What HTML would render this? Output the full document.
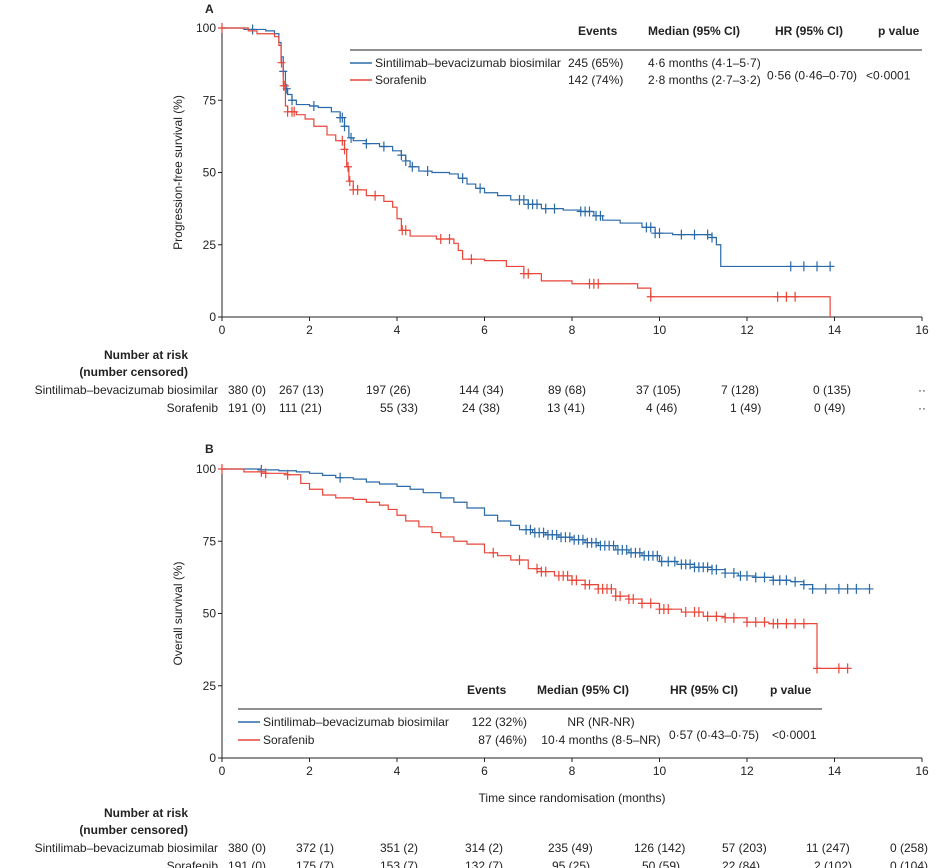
<!DOCTYPE html>
<html><head><meta charset="utf-8"><style>
html,body{margin:0;padding:0;background:#fff;}
svg{display:block;font-family:"Liberation Sans Narrow","Liberation Sans",sans-serif;}
text{fill:#222;font-size:12px;}
.b{font-weight:bold;}
</style></head><body>
<svg id="c" width="939" height="868" viewBox="0 0 939 868"></svg>
<script>
// ---- Panel A data ----
const xTicks=[0,2,4,6,8,10,12,14,16];
const yTicks=[0,25,50,75,100];
const aBlueT=[0,0.5,1.0,1.2,1.3,1.35,1.4,1.45,1.5,1.6,1.7,2.0,2.2,2.5,2.7,2.8,2.9,3.0,3.3,3.6,3.9,4.1,4.2,4.3,4.5,4.8,5.2,5.4,5.6,5.8,6.0,6.3,6.6,7.0,7.3,7.8,8.2,8.5,8.7,9.1,9.6,9.9,10.3,11.2,11.3,11.4,14.0];
const aBlueS=[100,99.5,99,98,95,90,85,79,77,75,73.5,73,72.5,71,69,66,62,61,60,59,57.5,56,54,52,50.5,50,49.5,48,46,44.5,43,42,40.5,39,37.5,37,36.5,35,33.5,32.5,31,29,28.5,27.5,25,17.5,17.5];
const aRedT=[0,0.6,0.8,1.2,1.3,1.35,1.4,1.45,1.5,1.7,1.9,2.1,2.4,2.6,2.8,2.85,2.9,3.0,3.3,3.7,3.9,4.0,4.1,4.3,4.9,5.3,5.4,5.5,6.0,6.5,6.9,7.3,8.0,9.5,9.8,13.9,13.9];
const aRedS=[100,99,98,97,94,88,80,73,71,70,68.5,66,63,61,58,52,47,44,42,40,38,34,30,28,27,25.5,23,20,19.5,17.5,15,12.5,11.5,10,7,7,0];
const aBlueCens=[0.7,1.4,1.48,1.6,2.1,2.7,2.75,2.8,2.95,3.3,3.7,4.1,4.2,4.35,4.7,5.5,5.9,6.8,6.9,7.0,7.1,7.2,7.4,7.6,8.2,8.3,8.4,8.55,8.65,9.7,9.8,9.9,10.0,10.5,10.8,11.1,11.2,13.0,13.3,13.6,13.9];
const aRedCens=[0,1.36,1.41,1.44,1.5,1.6,1.65,2.75,2.8,2.88,2.92,3.0,3.1,3.5,4.12,4.2,5.0,5.2,5.7,6.9,7.0,8.4,8.5,8.6,9.8,12.7,12.9,13.1];
// ---- Panel B data ----
const bBlueT=[0,0.9,1.3,1.7,2.0,2.3,2.6,3.0,3.3,3.6,4.0,4.3,4.6,5.0,5.3,5.6,6.0,6.3,6.6,6.8,7.1,7.4,7.7,8.0,8.3,8.6,9.0,9.3,9.6,10.0,10.4,10.8,11.2,11.5,11.8,12.2,12.6,13.0,13.3,13.5,14.8];
const bBlueS=[100,99.7,99.4,99,98.5,97.8,97,96.5,95.5,94.8,94,93,91.8,90,88.5,86.5,84,82,80.5,79,78,77.2,76.4,75.5,74.5,73.5,72,71,70,68,67,66,65.2,64,63,62.5,61.5,61,60,58.5,58.5];
const bRedT=[0,0.5,1.0,1.5,1.8,2.0,2.3,2.6,3.0,3.3,3.6,3.8,4.0,4.2,4.5,4.8,5.0,5.3,5.6,6.0,6.3,6.6,7.0,7.3,7.6,8.0,8.3,8.6,9.0,9.3,9.6,10.0,10.5,11.0,11.5,12.0,12.5,13.6,13.6,14.3];
const bRedS=[100,99,98.5,98,95,93,91,90,89.5,88.5,87.5,86,84,82,80,78,76.5,75,74,71,70,68.5,65.5,64.5,63,61.5,60,58.5,56,55,53.5,51.5,50.5,49,48.5,47,46.5,46.5,31,31];
const bBlueCens=[0.9,2.7,6.95,7.05,7.15,7.25,7.35,7.45,7.55,7.65,7.75,7.85,7.95,8.05,8.15,8.25,8.35,8.45,8.55,8.65,8.75,8.85,8.95,9.05,9.15,9.25,9.35,9.45,9.55,9.65,9.75,9.85,9.95,10.05,10.2,10.35,10.5,10.6,10.7,10.8,10.9,11.0,11.1,11.2,11.3,11.5,11.7,11.85,12.0,12.2,12.4,12.6,12.75,12.9,13.1,13.3,13.5,13.8,14.1,14.3,14.5,14.8];
const bRedCens=[0,0.9,1.0,1.5,6.2,6.8,7.2,7.3,7.4,7.7,7.8,7.9,8.0,8.1,8.3,8.4,8.6,8.7,8.8,8.9,9.0,9.1,9.3,9.4,9.6,9.8,10.0,10.1,10.2,10.6,10.8,10.9,11.1,11.3,11.5,11.7,12.0,12.2,12.4,12.6,12.7,12.9,13.1,13.3,13.6,14.1,14.3];
// risk tables
const aRiskBlue=["380 (0)","267 (13)","197 (26)","144 (34)","89 (68)","37 (105)","7 (128)","0 (135)","··"];
const aRiskRed=["191 (0)","111 (21)","55 (33)","24 (38)","13 (41)","4 (46)","1 (49)","0 (49)","··"];
const bRiskBlue=["380 (0)","372 (1)","351 (2)","314 (2)","235 (49)","126 (142)","57 (203)","11 (247)","0 (258)"];
const bRiskRed=["191 (0)","175 (7)","153 (7)","132 (7)","95 (25)","50 (59)","22 (84)","2 (102)","0 (104)"];

const NS="http://www.w3.org/2000/svg";
const svg=document.getElementById('c');
function el(tag,attrs,parent){const e=document.createElementNS(NS,tag);for(const k in attrs)e.setAttribute(k,attrs[k]);(parent||svg).appendChild(e);return e;}
function txt(s,x,y,anchor,cls,name,parent){const t=el('text',{x:x,y:y,'text-anchor':anchor||'start'},parent);if(cls)t.setAttribute('class',cls);t.textContent=s;


return t;}
const BLUE="#2a6aa8",RED="#e8463a";
const X0=222,X1=922;
function sx(t){return X0+(X1-X0)*t/16;}
function stepAt(T,S,t){let v=S[0];for(let i=0;i<T.length;i++){if(T[i]<=t)v=S[i];else break;}return v;}

function panel(top,bot,T1,S1,C1,T2,S2,C2,ytitle,letter,ly){
  const sy=v=>bot-(bot-top)*v/100;
  const g=el('g',{});
  
  
  txt(letter,205,ly,'start','b','panel-label-'+letter.toLowerCase(),g).setAttribute('font-size','14');
  const ax=el('path',{d:`M${X0} ${top-2}V${bot}H${X1}`,stroke:'#222',fill:'none','stroke-width':1},g);
  
  
  xTicks.forEach(v=>{const l=el('line',{x1:sx(v),x2:sx(v),y1:bot,y2:bot+4,stroke:'#222'},g);
    
    
    txt(String(v),sx(v),bot+17,'middle',null,'x-tick-label',g);});
  yTicks.forEach(v=>{const l=el('line',{x1:X0-4,x2:X0,y1:sy(v),y2:sy(v),stroke:'#222'},g);
    
    
    txt(String(v),X0-6,sy(v)+4,'end',null,'y-tick-label',g);});
  const yt=txt(ytitle,0,0,'middle',null,'y-axis-title',g);
  yt.setAttribute('transform',`translate(182,${(top+bot)/2}) rotate(-90)`);
  [[T1,S1,C1,BLUE,'sintilimab'],[T2,S2,C2,RED,'sorafenib']].forEach(([T,S,C,col,nm])=>{
    let d=`M${sx(T[0])} ${sy(S[0])}`;
    for(let i=1;i<T.length;i++){d+=`H${sx(T[i])}V${sy(S[i])}`;}
    const p=el('path',{d:d,stroke:col,fill:'none','stroke-width':1.2},g);
    
    
    C.forEach(t=>{const y=sy(stepAt(T,S,t));const m=el('path',{d:`M${sx(t)} ${y-5}V${y+5}M${sx(t)-4} ${y}H${sx(t)+4}`,stroke:col,'stroke-width':1.2},g);
      
      });
  });
}
panel(28,317,aBlueT,aBlueS,aBlueCens,aRedT,aRedS,aRedCens,'Progression-free survival (%)','A',13);
panel(469,758,bBlueT,bBlueS,bBlueCens,bRedT,bRedS,bRedCens,'Overall survival (%)','B',453);

function legend(hy,lx0,lx1,cols,rows,hr,p,hrx,px,rowY){
  txt('Events',cols[0],hy,'start','b','legend-events-header');
  txt('Median (95% CI)',cols[1],hy,'start','b','legend-median-header');
  txt('HR (95% CI)',cols[2],hy,'start','b','legend-hr-header');
  txt('p value',cols[3],hy,'start','b','legend-p-header');
  const l=el('line',{x1:lx0,x2:lx1,y1:hy+15,y2:hy+15,stroke:'#222'});
  
  
  rows.forEach((r,i)=>{const y=rowY[i];
    const s=el('line',{x1:lx0,x2:lx0+22,y1:y-4,y2:y-4,stroke:r[0],'stroke-width':1.4});
    
    
    const e=txt(r[1],lx0+25,y,'start',null,'legend-entry');
    if(r[1].length>20){e.setAttribute('textLength','186');e.setAttribute('lengthAdjust','spacingAndGlyphs');}
    txt(r[2],r[4],y,r[5],null,'legend-events');
    txt(r[3],r[6],y,r[7],null,'legend-median');});
  txt(hr,hrx,(rowY[0]+rowY[1])/2+4,'start',null,'legend-hr');
  txt(p,px,(rowY[0]+rowY[1])/2+4,'start',null,'legend-p');
}
legend(35,350,922,[578,648,775,878],
 [[BLUE,'Sintilimab–bevacizumab biosimilar','245 (65%)','4·6 months (4·1–5·7)',568,'start',648,'start'],
  [RED,'Sorafenib','142 (74%)','2·8 months (2·7–3·2)',568,'start',648,'start']],
 '0·56 (0·46–0·70)','<0·0001',767,866,[67,84]);
legend(694,238,822,[467,537,670,770],
 [[BLUE,'Sintilimab–bevacizumab biosimilar','122 (32%)','NR (NR-NR)',527,'end',601,'middle'],
  [RED,'Sorafenib','87 (46%)','10·4 months (8·5–NR)',527,'end',601,'middle']],
 '0·57 (0·43–0·75)','<0·0001',669,772,[726,744]);

txt('Time since randomisation (months)',572,802,'middle',null,'x-axis-title');

const aStarts=[228,279,366,459,548,636,721,813,918];
const aStartsR=[228,279,380,462,547,646,730,814,918];
const bStarts=[228,296,380,465,548,634,722,806,890];
const bStartsR=[228,296,380,465,552,642,722,814,890];
function risk(y,rb,rr,sb,sr){
  txt('Number at risk',188,y,'end','b','risk-header');
  txt('(number censored)',188,y+17,'end','b','risk-subheader');
  txt('Sintilimab–bevacizumab biosimilar',218,y+35,'end',null,'risk-row-label');
  txt('Sorafenib',218,y+53,'end',null,'risk-row-label');
  rb.forEach((s,i)=>txt(s,sb[i],y+35,'start',null,'risk-count'));
  rr.forEach((s,i)=>txt(s,sr[i],y+53,'start',null,'risk-count'));
}
risk(359,aRiskBlue,aRiskRed,aStarts,aStartsR);
risk(817,bRiskBlue,bRiskRed,bStarts,bStartsR);
</script>
</body></html>
